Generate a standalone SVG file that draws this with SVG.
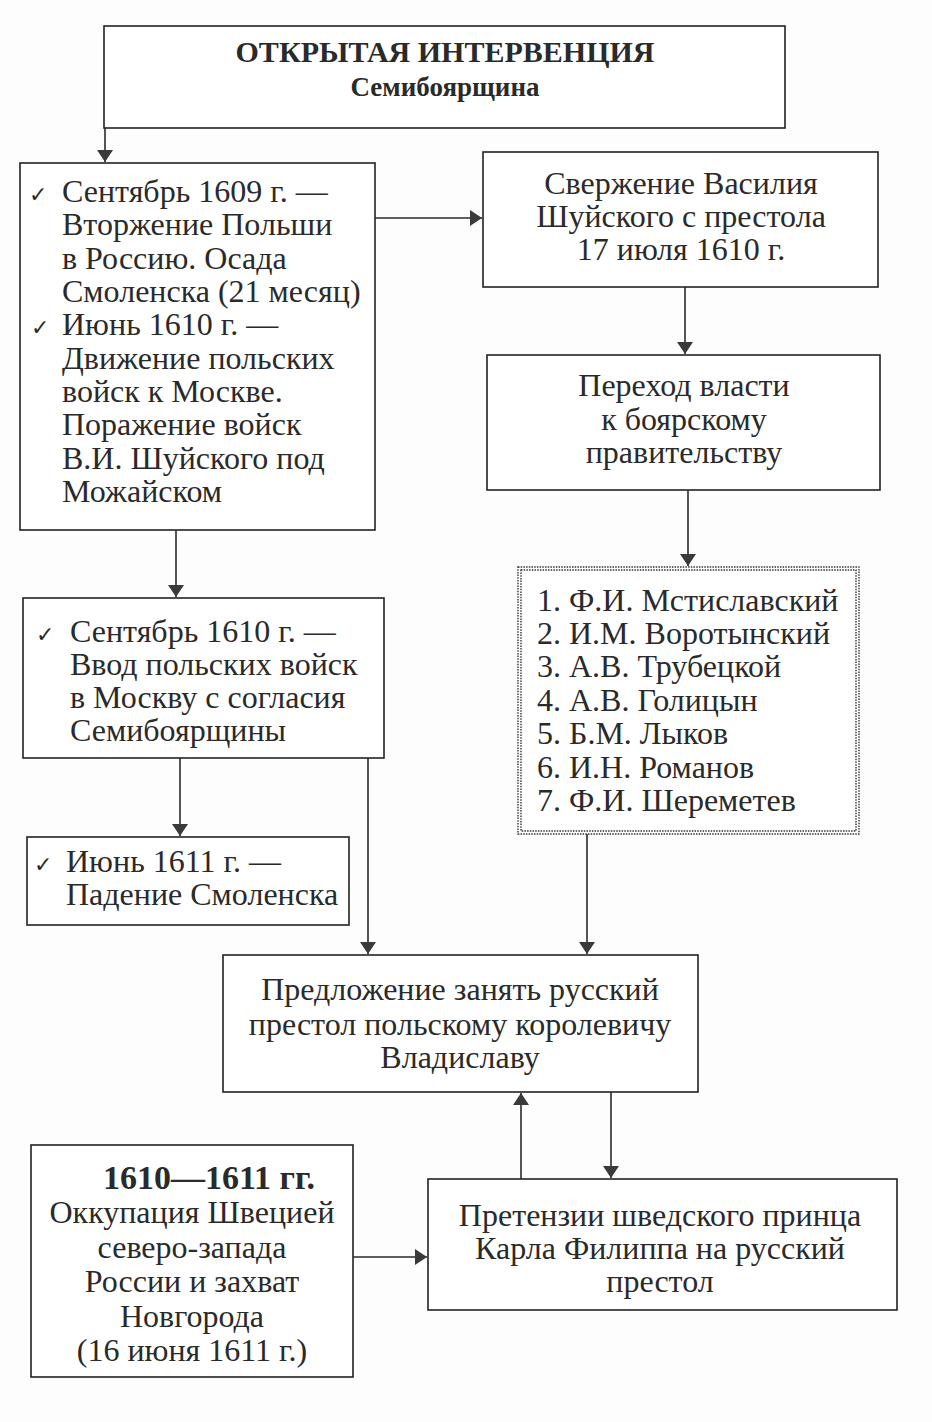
<svg xmlns="http://www.w3.org/2000/svg" width="932" height="1422" viewBox="0 0 932 1422">
<defs>
<marker id="ah" viewBox="0 0 12 16" refX="12" refY="8" markerWidth="12" markerHeight="16" markerUnits="userSpaceOnUse" orient="auto">
<path d="M0,0 L12,8 L0,16 Z" fill="#3a3a3a"/>
</marker>
<style>
.box{fill:#fff;stroke:#222;stroke-width:1.6}
.t{font-family:"Liberation Serif","Times New Roman",serif;font-size:32px;fill:#2a2a2a}
.c{text-anchor:middle}
.b{font-weight:bold}
.ck{font-family:"DejaVu Sans",sans-serif;font-size:22px;fill:#2a2a2a}
.con{stroke:#2a2a2a;stroke-width:1.6;fill:none;marker-end:url(#ah)}
.dot{fill:none;stroke:#333;stroke-width:1.4;stroke-dasharray:1.5 1.2}
</style>
</defs>
<rect width="932" height="1422" fill="#fdfdfd"/>

<g id="title">
<rect class="box" x="104" y="26" width="681" height="102"/>
<text class="t c b" x="445" y="62" style="font-size:30px">ОТКРЫТАЯ ИНТЕРВЕНЦИЯ</text>
<text class="t c b" x="445" y="96" style="font-size:27px">Семибоярщина</text>
</g>

<g id="box1">
<rect class="box" x="20" y="163" width="355" height="367"/>
<text class="ck" x="29" y="202">✓</text>
<text class="ck" x="31" y="335">✓</text>
<text class="t" x="62"><tspan x="62" y="202">Сентябрь 1609 г. —</tspan><tspan x="62" y="235">Вторжение Польши</tspan><tspan x="62" y="269">в Россию. Осада</tspan><tspan x="62" y="302">Смоленска (21 месяц)</tspan><tspan x="62" y="335">Июнь 1610 г. —</tspan><tspan x="62" y="369">Движение польских</tspan><tspan x="62" y="402">войск к Москве.</tspan><tspan x="62" y="435">Поражение войск</tspan><tspan x="62" y="469">В.И. Шуйского под</tspan><tspan x="62" y="502">Можайском</tspan></text>
</g>

<g id="box2">
<rect class="box" x="483" y="152" width="395" height="135"/>
<text class="t c" x="681"><tspan x="681" y="194">Свержение Василия</tspan><tspan x="681" y="227">Шуйского с престола</tspan><tspan x="681" y="260">17 июля 1610 г.</tspan></text>
</g>

<g id="box3">
<rect class="box" x="487" y="355" width="393" height="135"/>
<text class="t c" x="684"><tspan x="684" y="396">Переход власти</tspan><tspan x="684" y="430">к боярскому</tspan><tspan x="684" y="463">правительству</tspan></text>
</g>

<g id="list">
<rect fill="#fff" x="518" y="567" width="341" height="267"/>
<rect class="dot" x="518" y="567" width="341" height="267"/>
<rect class="dot" x="521" y="570" width="335" height="261"/>
<text class="t" x="537"><tspan x="537" y="611">1. Ф.И. Мстиславский</tspan><tspan x="537" y="644">2. И.М. Воротынский</tspan><tspan x="537" y="677">3. А.В. Трубецкой</tspan><tspan x="537" y="711">4. А.В. Голицын</tspan><tspan x="537" y="744">5. Б.М. Лыков</tspan><tspan x="537" y="778">6. И.Н. Романов</tspan><tspan x="537" y="811">7. Ф.И. Шереметев</tspan></text>
</g>

<g id="box4">
<rect class="box" x="23" y="598" width="361" height="160"/>
<text class="ck" x="36" y="642">✓</text>
<text class="t" x="70"><tspan x="70" y="642">Сентябрь 1610 г. —</tspan><tspan x="70" y="675">Ввод польских войск</tspan><tspan x="70" y="708">в Москву с согласия</tspan><tspan x="70" y="741">Семибоярщины</tspan></text>
</g>

<g id="box5">
<rect class="box" x="27" y="837" width="322" height="88"/>
<text class="ck" x="34" y="872">✓</text>
<text class="t" x="66"><tspan x="66" y="872">Июнь 1611 г. —</tspan><tspan x="66" y="905">Падение Смоленска</tspan></text>
</g>

<g id="box6">
<rect class="box" x="223" y="955" width="475" height="137"/>
<text class="t c" x="460"><tspan x="460" y="1000">Предложение занять русский</tspan><tspan x="460" y="1035">престол польскому королевичу</tspan><tspan x="460" y="1068">Владиславу</tspan></text>
</g>

<g id="box7">
<rect class="box" x="31" y="1145" width="322" height="232"/>
<text class="t c b" x="209" y="1189" style="font-size:34px">1610—1611 гг.</text>
<text class="t c" x="192"><tspan x="192" y="1223">Оккупация Швецией</tspan><tspan x="192" y="1258">северо-запада</tspan><tspan x="192" y="1292">России и захват</tspan><tspan x="192" y="1327">Новгорода</tspan><tspan x="192" y="1361">(16 июня 1611 г.)</tspan></text>
</g>

<g id="box8">
<rect class="box" x="428" y="1179" width="469" height="131"/>
<text class="t c" x="660"><tspan x="660" y="1226">Претензии шведского принца</tspan><tspan x="660" y="1259">Карла Филиппа на русский</tspan><tspan x="660" y="1292">престол</tspan></text>
</g>

<g id="connectors">
<path class="con" d="M105,128 V162"/>
<path class="con" d="M375,218 H482"/>
<path class="con" d="M685,287 V354"/>
<path class="con" d="M688,490 V566"/>
<path class="con" d="M176,530 V597"/>
<path class="con" d="M180,758 V836"/>
<path class="con" d="M368,758 V954"/>
<path class="con" d="M587,834 V954"/>
<path class="con" d="M521,1179 V1093"/>
<path class="con" d="M611,1092 V1178"/>
<path class="con" d="M353,1257 H427"/>
</g>
</svg>
